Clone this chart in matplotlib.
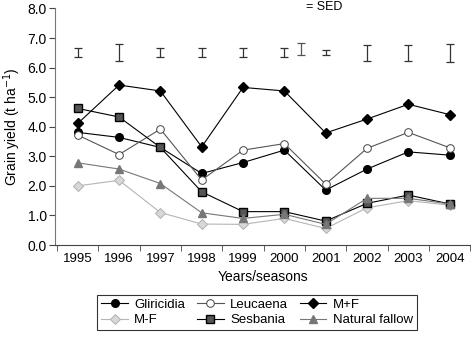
import numpy as np
import matplotlib
matplotlib.use('Agg')
from matplotlib import pyplot as plt

plt.rcParams['font.family'] = ['Liberation Sans', 'DejaVu Sans']
plt.rcParams['font.size'] = 10

years = ['1995', '1996', '1997', '1998', '1999', '2000', '2001', '2002', '2003', '2004']

gliricidia = [3.81, 3.64, 3.30, 2.42, 2.79, 3.21, 1.86, 2.57, 3.15, 3.04]
leucaena = [3.72, 3.06, 3.92, 2.20, 3.21, 3.43, 2.06, 3.27, 3.81, 3.29]
m_plus_f = [4.11, 5.41, 5.21, 3.32, 5.33, 5.21, 3.79, 4.26, 4.76, 4.41]
m_minus_f = [2.00, 2.19, 1.10, 0.71, 0.70, 0.90, 0.56, 1.26, 1.50, 1.35]
sesbania = [4.62, 4.33, 3.30, 1.80, 1.13, 1.13, 0.81, 1.41, 1.69, 1.39]
nat_fallow = [2.78, 2.57, 2.08, 1.09, 0.90, 1.04, 0.70, 1.58, 1.58, 1.39]

# SED bars (full length), drawn centred at 6.5
sed = [0.30, 0.58, 0.30, 0.30, 0.30, 0.30, 0.17, 0.53, 0.53, 0.60]
sed_key = 0.41

x = np.arange(len(years))

fig = plt.figure(figsize=(4.72, 3.38), dpi=100)
ax = fig.add_axes([0.1165, 0.275, 0.88, 0.70])

ms = 5.5
h1, = ax.plot(x, gliricidia, '-o', color='black', lw=0.8, ms=ms, mfc='black', mec='black', label='Gliricidia')
h2, = ax.plot(x, leucaena, '-o', color='#555555', lw=0.8, ms=ms, mfc='white', mec='#444444', mew=0.7, label='Leucaena')
h3, = ax.plot(x, m_plus_f, '-D', color='black', lw=0.8, ms=4.8, mfc='black', mec='black', label='M+F')
h4, = ax.plot(x, m_minus_f, '-D', color='#b5b5b5', lw=0.8, ms=4.8, mfc='#d8d8d8', mec='#b0b0b0', mew=0.7, label='M-F')
h5, = ax.plot(x, sesbania, '-s', color='black', lw=0.8, ms=ms, mfc='#555555', mec='black', mew=1.0, label='Sesbania')
h6, = ax.plot(x, nat_fallow, '-^', color='#777777', lw=0.8, ms=ms, mfc='#777777', mec='#777777', label='Natural fallow')

# SED bars
for xi, s in zip(x, sed):
    ax.errorbar(xi, 6.5, yerr=s / 2, fmt='none', ecolor='#333333', elinewidth=0.9, capsize=3, capthick=0.9)
ax.errorbar(5.41, 6.62, yerr=sed_key / 2, fmt='none', ecolor='#555555', elinewidth=0.9, capsize=3, capthick=0.9)
ax.text(5.52, 8.05, '= SED', ha='left', va='center', fontsize=9, clip_on=False)

ax.set_xlim(-0.55, 9.47)
ax.set_ylim(0, 8)
ax.set_yticks(np.arange(0, 8.1, 1.0))
ax.set_yticklabels([f'{v:.1f}' for v in np.arange(0, 8.1, 1.0)], fontsize=10)
ax.set_xticks(x)
ax.set_xticklabels(years, fontsize=9.5)
ax.tick_params(axis='x', which='major', length=0, pad=6)
ax.set_xticks(np.arange(-0.5, 9.6, 1.0), minor=True)
ax.tick_params(axis='x', which='minor', length=4, color='#444444')
ax.tick_params(axis='y', length=4, color='#444444', pad=2)

ax.spines['top'].set_visible(False)
ax.spines['right'].set_visible(False)
ax.spines['left'].set_color('#777777')
ax.spines['bottom'].set_color('#444444')

ax.set_xlabel('Years/seasons', fontsize=10, labelpad=3)
ax.set_ylabel('Grain yield (t ha$^{-1}$)', fontsize=10, labelpad=3)

# legend filled row by row like the original
handles = [h1, h4, h2, h5, h3, h6]
leg = fig.legend(handles=handles, loc='lower center', bbox_to_anchor=(0.545, 0.003), ncol=3, fontsize=9.5,
                 frameon=True, fancybox=False, edgecolor='black', handlelength=2.0,
                 columnspacing=0.9, handletextpad=0.5, borderpad=0.3, labelspacing=0.25)
leg.get_frame().set_linewidth(0.8)

plt.savefig('out.png', dpi=100)
